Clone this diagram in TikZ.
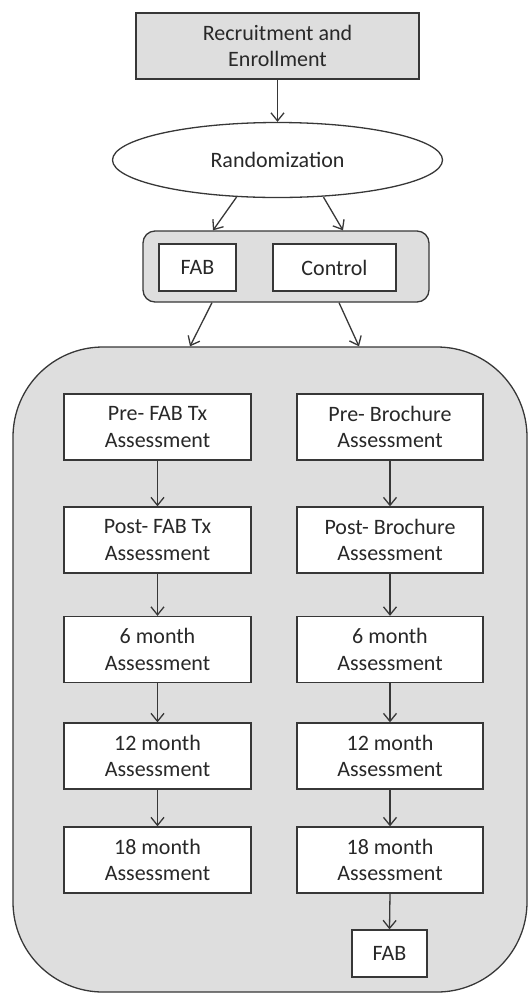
\documentclass[tikz,border=0pt]{standalone}
\usepackage{fontspec}
\setmainfont{Carlito}
\usetikzlibrary{arrows.meta,calc,shapes.geometric}
\definecolor{boxfill}{RGB}{222,222,222}
\definecolor{edge}{RGB}{55,55,55}
\definecolor{txt}{RGB}{40,40,40}
\tikzset{
  base/.style={draw=edge,line width=1.3pt,text=txt,font=\fontsize{22}{26.7}\selectfont,align=center,inner sep=0pt},
  wbox/.style={base,rectangle,fill=white,minimum height=66pt},
  arr/.style={draw=edge,line width=1.3pt,-{Straight Barb[length=8pt,width=13pt,line width=1.3pt]}},
}
\begin{document}
\begin{tikzpicture}[x=1pt,y=-1pt]
\useasboundingbox (0,0) rectangle (530,994);
% big container
\node[base,rectangle,rounded corners=90pt,fill=boxfill,minimum width=514pt,minimum height=645pt] (big) at (270,669.5) {};
% top
\node[base,rectangle,fill=boxfill,minimum width=283pt,minimum height=66pt] (rec) at (277.5,46) {Recruitment and\\Enrollment};
\node[base,ellipse,fill=white,minimum width=330pt,minimum height=75pt] (rand) at (277.5,160) {Randomization};
\node[base,rectangle,rounded corners=12pt,fill=boxfill,minimum width=286pt,minimum height=71pt] (grp) at (286,266.5) {};
\node[base,rectangle,fill=white,minimum width=77pt,minimum height=47pt] (fab) at (197.5,267.5) {FAB};
\node[base,rectangle,fill=white,minimum width=123pt,minimum height=47pt] (ctl) at (334.5,267.5) {Control};
% left column
\node[wbox,minimum width=187pt] (l1) at (157.5,427) {Pre- FAB Tx\\Assessment};
\node[wbox,minimum width=187pt] (l2) at (157.5,540) {Post- FAB Tx\\Assessment};
\node[wbox,minimum width=187pt] (l3) at (157.5,649.5) {6 month\\Assessment};
\node[wbox,minimum width=187pt] (l4) at (157.5,756) {12 month\\Assessment};
\node[wbox,minimum width=187pt] (l5) at (157.5,860) {18 month\\Assessment};
% right column
\node[wbox,minimum width=186pt] (r1) at (390,427) {Pre- Brochure\\Assessment};
\node[wbox,minimum width=186pt] (r2) at (390,540) {Post- Brochure\\Assessment};
\node[wbox,minimum width=186pt] (r3) at (390,649.5) {6 month\\Assessment};
\node[wbox,minimum width=186pt] (r4) at (390,756) {12 month\\Assessment};
\node[wbox,minimum width=186pt] (r5) at (390,860) {18 month\\Assessment};
\node[base,rectangle,fill=white,minimum width=75pt,minimum height=47pt] (fab2) at (389.5,953.5) {FAB};
% connectors
\draw[arr] (rec.south) -- (rand.north);
\draw[arr] ($(rand.south)+(-41,-1)$) -- ($(grp.north)+(-73,0)$);
\draw[arr] ($(rand.south)+(46,-1)$) -- ($(grp.north)+(57,0)$);
\draw[arr] ($(grp.south)+(-74,0)$) -- ($(big.north)+(-80,0)$);
\draw[arr] ($(grp.south)+(53,0)$) -- ($(big.north)+(89,0)$);
\foreach \a/\b in {l1/l2,l2/l3,l3/l4,l4/l5,r1/r2,r2/r3,r3/r4,r4/r5}
  \draw[arr] (\a.south) -- (\b.north);
\draw[arr] (r5.south) -- (fab2.north);
\end{tikzpicture}
\end{document}
